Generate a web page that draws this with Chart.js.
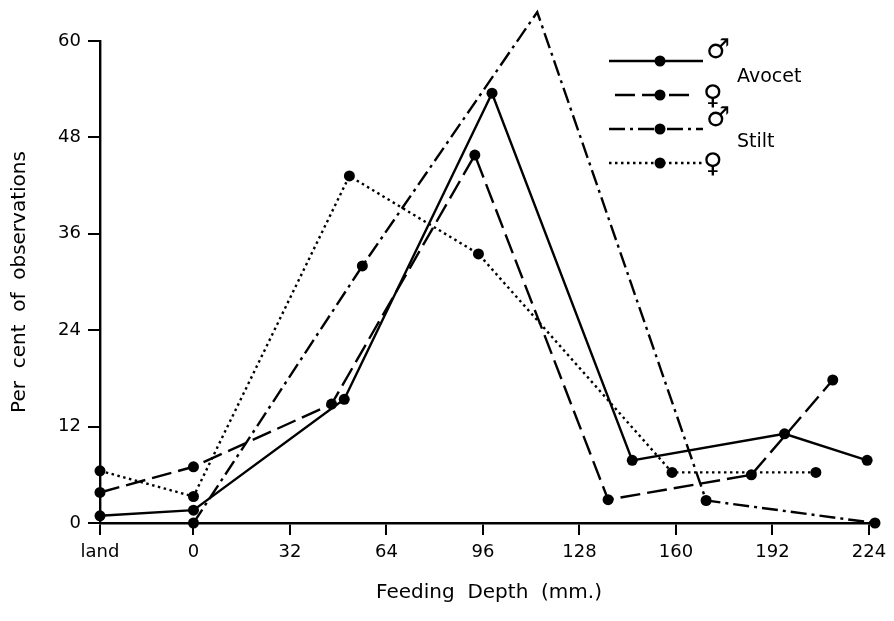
<!DOCTYPE html>
<html lang="en">
<head>
    <meta charset="utf-8">
    <title>Feeding Depth</title>
    <script src="https://cdn.jsdelivr.net/npm/chart.js@4.4.1/dist/chart.umd.min.js"></script>
    <style>
        body { margin: 0; background: #fff; }
    </style>
</head>
<body>
    <canvas id="myChart" width="894" height="621"></canvas>

    <script>
        // data (x in mm, "land" placed just left of 0)
        var LAND = -31;
        var xTicks = [LAND, 0, 32, 64, 96, 128, 160, 192, 224];
        var xTickLabels = ['land', '0', '32', '64', '96', '128', '160', '192', '224'];

        var avocetMaleX = [LAND, 0, 50, 99, 145.5, 196, 223.4];
        var avocetMaleY = [0.9, 1.6, 15.4, 53.5, 7.8, 11.1, 7.8];

        var avocetFemaleX = [LAND, 0, 45.8, 93.3, 137.5, 185, 212];
        var avocetFemaleY = [3.8, 7.0, 14.8, 45.8, 2.9, 6.0, 17.8];

        var stiltMaleX = [0, 56, 114, 170, 226];
        var stiltMaleY = [0, 32, 63.6, 2.8, 0];

        var stiltFemaleX = [LAND, 0, 51.7, 94.5, 158.7, 206.4];
        var stiltFemaleY = [6.5, 3.3, 43.2, 33.5, 6.3, 6.3];

        var seriesNames = ['Avocet male', 'Avocet female', 'Stilt male', 'Stilt female'];
        var sexSymbols = ['\u2642', '\u2640', '\u2642', '\u2640'];
        var speciesNames = ['Avocet', 'Stilt'];

        function pts(xs, ys) {
            return xs.map(function (x, i) { return { x: x, y: ys[i] }; });
        }

        var dashes = [[], [20, 7], [16, 5, 3, 5], [2.5, 3.5]];
        var series = [
            pts(avocetMaleX, avocetMaleY),
            pts(avocetFemaleX, avocetFemaleY),
            pts(stiltMaleX, stiltMaleY),
            pts(stiltFemaleX, stiltFemaleY)
        ];

        var datasets = series.map(function (d, i) {
            return {
                label: seriesNames[i],
                data: d,
                showLine: true,
                borderColor: '#000',
                borderWidth: 2.4,
                borderDash: dashes[i],
                pointRadius: 5.5,
                pointBackgroundColor: '#000',
                pointBorderWidth: 0,
                clip: false
            };
        });

        // legend in the upper right, drawn by hand
        var legendPlugin = {
            id: 'handLegend',
            afterDatasetsDraw: function (chart) {
                var ctx = chart.ctx;
                var rows = [61, 95, 129, 163];
                ctx.save();
                chart.data.datasets.forEach(function (ds, i) {
                    var y = rows[i];
                    ctx.strokeStyle = '#000';
                    ctx.lineWidth = 2.4;
                    ctx.setLineDash(ds.borderDash);
                    ctx.beginPath();
                    ctx.moveTo(i === 1 ? 615 : 609, y);
                    ctx.lineTo(i === 1 ? 696 : 703, y);
                    ctx.stroke();
                    ctx.setLineDash([]);
                    ctx.fillStyle = '#000';
                    ctx.beginPath();
                    ctx.arc(660, y, 5.5, 0, Math.PI * 2);
                    ctx.fill();

                    ctx.font = '27px "DejaVu Sans"';
                    ctx.textAlign = 'left';
                    ctx.textBaseline = 'middle';
                    var male = sexSymbols[i] === '\u2642';
                    ctx.fillText(sexSymbols[i], male ? 706 : 703, male ? y - 10 : y + 2);
                });
                ctx.font = '19px "DejaVu Sans"';
                ctx.fillText(speciesNames[0], 737, 77);
                ctx.fillText(speciesNames[1], 737, 142);
                ctx.restore();
            }
        };

        var ctx = document.getElementById('myChart');
        var myChart = new Chart(ctx, {
            type: 'scatter',
            data: { datasets: datasets },
            plugins: [legendPlugin],
            options: {
                responsive: false,
                animation: false,
                layout: { padding: { top: 41, right: 16, left: 0, bottom: 0 } },
                plugins: {
                    legend: { display: false },
                    tooltip: { enabled: false }
                },
                scales: {
                    x: {
                        type: 'linear',
                        min: LAND,
                        max: 227,
                        afterFit: function (scale) { scale.height = 98; },
                        afterBuildTicks: function (scale) {
                            scale.ticks = xTicks.map(function (v) { return { value: v }; });
                        },
                        ticks: {
                            color: '#000',
                            padding: 7,
                            maxRotation: 0,
                            font: { family: 'DejaVu Sans', size: 18 },
                            callback: function (v) {
                                var k = xTicks.indexOf(v);
                                return k >= 0 ? xTickLabels[k] : '';
                            }
                        },
                        grid: {
                            drawOnChartArea: false,
                            drawTicks: true,
                            tickLength: 12,
                            color: '#000',
                            lineWidth: 2
                        },
                        border: { display: true, color: '#000', width: 2.4 },
                        title: {
                            display: true,
                            text: 'Feeding  Depth  (mm.)',
                            color: '#000',
                            font: { family: 'DejaVu Sans', size: 20 },
                            padding: { top: 0, bottom: 16 }
                        }
                    },
                    y: {
                        min: 0,
                        max: 60,
                        afterFit: function (scale) { scale.width = 100; },
                        ticks: {
                            stepSize: 12,
                            color: '#000',
                            padding: 7,
                            font: { family: 'DejaVu Sans', size: 18 }
                        },
                        grid: {
                            drawOnChartArea: false,
                            drawTicks: true,
                            tickLength: 12,
                            color: '#000',
                            lineWidth: 2
                        },
                        border: { display: true, color: '#000', width: 2.4 },
                        title: {
                            display: true,
                            text: 'Per  cent  of  observations',
                            color: '#000',
                            font: { family: 'DejaVu Sans', size: 20 },
                            padding: { top: 8, bottom: 0 }
                        }
                    }
                }
            }
        });
    </script>
</body>
</html>
